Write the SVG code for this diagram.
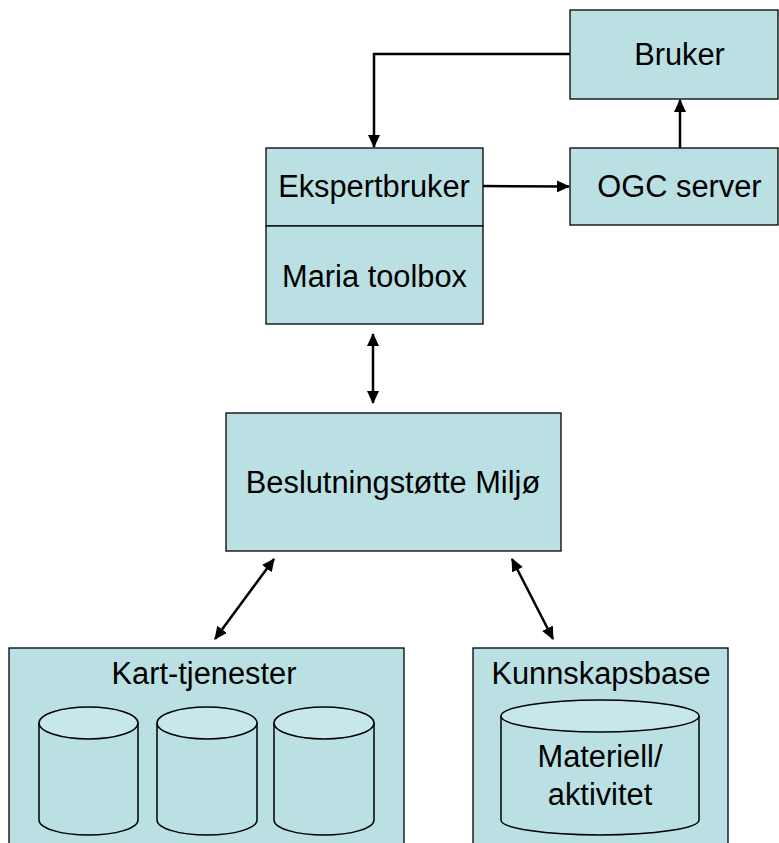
<svg xmlns="http://www.w3.org/2000/svg" width="779" height="843" viewBox="0 0 779 843">
<defs>
<marker id="ah" markerWidth="13" markerHeight="12" viewBox="0 0 13 12" refX="12" refY="6" orient="auto-start-reverse" markerUnits="userSpaceOnUse">
<path d="M0,0 L13,6 L0,12 z" fill="#000"/>
</marker>
<style>
.box{fill:#BBE0E3;stroke:#000;stroke-width:1.3}
.cyl{fill:#BBE0E3;stroke:#000;stroke-width:1.5}
.top{fill:#C8E7EA;stroke:#000;stroke-width:1.5}
.t{font-family:"Liberation Sans",Arial,sans-serif;font-size:30.8px;fill:#000;text-anchor:middle}
.c{fill:none;stroke:#000;stroke-width:2.5}
</style>
</defs>
<rect width="779" height="843" fill="#fff"/>
<g id="connectors">
<polyline class="c" points="570,54 374,54 374,147" marker-end="url(#ah)"/>
<line class="c" x1="482" y1="186" x2="569" y2="186.5" marker-end="url(#ah)"/>
<line class="c" x1="680" y1="148" x2="680" y2="100" marker-end="url(#ah)"/>
<line class="c" x1="373" y1="334" x2="373" y2="403" marker-start="url(#ah)" marker-end="url(#ah)"/>
<line class="c" x1="274" y1="559" x2="215" y2="639" marker-start="url(#ah)" marker-end="url(#ah)"/>
<line class="c" x1="512" y1="559" x2="553" y2="639" marker-start="url(#ah)" marker-end="url(#ah)"/>
</g>
<g id="bruker">
<rect class="box" x="570" y="10" width="208" height="89"/>
<text class="t" x="679.5" y="65">Bruker</text>
</g>
<g id="ogc">
<rect class="box" x="570" y="148" width="208" height="77"/>
<text class="t" x="679.5" y="197">OGC server</text>
</g>
<g id="ekspertbruker">
<rect class="box" x="266" y="148" width="217" height="78"/>
<text class="t" x="374" y="197">Ekspertbruker</text>
</g>
<g id="maria">
<rect class="box" x="266" y="226" width="217" height="98"/>
<text class="t" x="374.5" y="287">Maria toolbox</text>
</g>
<g id="beslutning">
<rect class="box" x="226" y="413" width="335" height="138"/>
<text class="t" x="393" y="493">Beslutningstøtte Miljø</text>
</g>
<g id="kart">
<rect class="box" x="9" y="648" width="395" height="200"/>
<text class="t" x="204" y="684">Kart-tjenester</text>
<path class="cyl" d="M39,723 L39,820 A49.5,15 0 0 0 138,820 L138,723"/>
<ellipse class="top" cx="88.5" cy="723" rx="49.5" ry="16"/>
<path class="cyl" d="M157,723 L157,820 A50,15 0 0 0 257,820 L257,723"/>
<ellipse class="top" cx="207" cy="723" rx="50" ry="16"/>
<path class="cyl" d="M274,723 L274,820 A50,15 0 0 0 374,820 L374,723"/>
<ellipse class="top" cx="324" cy="723" rx="50" ry="16"/>
</g>
<g id="kunnskap">
<rect class="box" x="473" y="648" width="255" height="200"/>
<text class="t" x="601" y="684">Kunnskapsbase</text>
<path class="cyl" d="M501,716 L501,820 A99,15 0 0 0 699,820 L699,716"/>
<ellipse class="top" cx="600" cy="716" rx="99" ry="16"/>
<text class="t" x="600" y="767">Materiell/</text>
<text class="t" x="600" y="805">aktivitet</text>
</g>
</svg>
